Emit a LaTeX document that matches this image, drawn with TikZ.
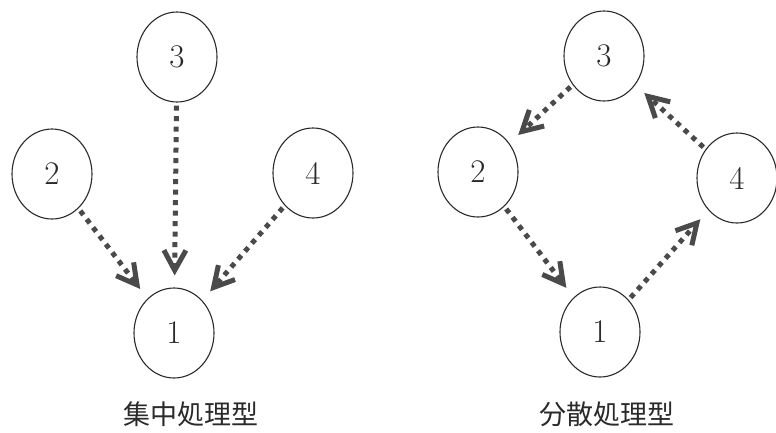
\documentclass[tikz,border=0pt]{standalone}
\usepackage{fontspec}
\newfontfamily\cjk{Noto Sans CJK JP}
\usetikzlibrary{shapes.geometric,arrows.meta}
\definecolor{arrowgray}{HTML}{4A4A4A}
\definecolor{inkgray}{HTML}{2A2A2A}
\tikzset{
  proc/.style={ellipse, draw=inkgray, line width=1.1pt, inner sep=0pt,
    minimum width=80pt, minimum height=90pt, text=inkgray,
    font=\fontsize{33}{36}\selectfont},
  flow/.style={draw=arrowgray, line width=5pt, line cap=butt,
    dash pattern=on 5pt off 5.5pt,
    -{Straight Barb[length=20pt, width=22pt, line width=5pt]},
    shorten >=12pt, shorten <=3pt},
  caption/.style={text=inkgray, font=\cjk\fontsize{27}{30}\selectfont}
}
\begin{document}
\begin{tikzpicture}[x=1pt,y=-1pt]
\useasboundingbox (0,0) rectangle (776,432);
% left: centralized
\node[proc] (L3) at (177,57) {3};
\node[proc] (L2) at (52,174) {2};
\node[proc] (L4) at (313,173) {4};
\node[proc] (L1) at (174,333) {1};
\node[caption] (Lc) at (191,414) {集中処理型};
\draw[flow] (L3) -- (L1);
\draw[flow] (L2) -- (L1);
\draw[flow] (L4) -- (L1);
% right: distributed
\node[proc] (R3) at (604,56) {3};
\node[proc] (R2) at (478,172) {2};
\node[proc] (R4) at (737,178) {4};
\node[proc] (R1) at (600,332) {1};
\node[caption] (Rc) at (607,414) {分散処理型};
\draw[flow] (R3) -- (R2);
\draw[flow] (R2) -- (R1);
\draw[flow] (R1) -- (R4);
\draw[flow] (R4) -- (R3);
\end{tikzpicture}
\end{document}
